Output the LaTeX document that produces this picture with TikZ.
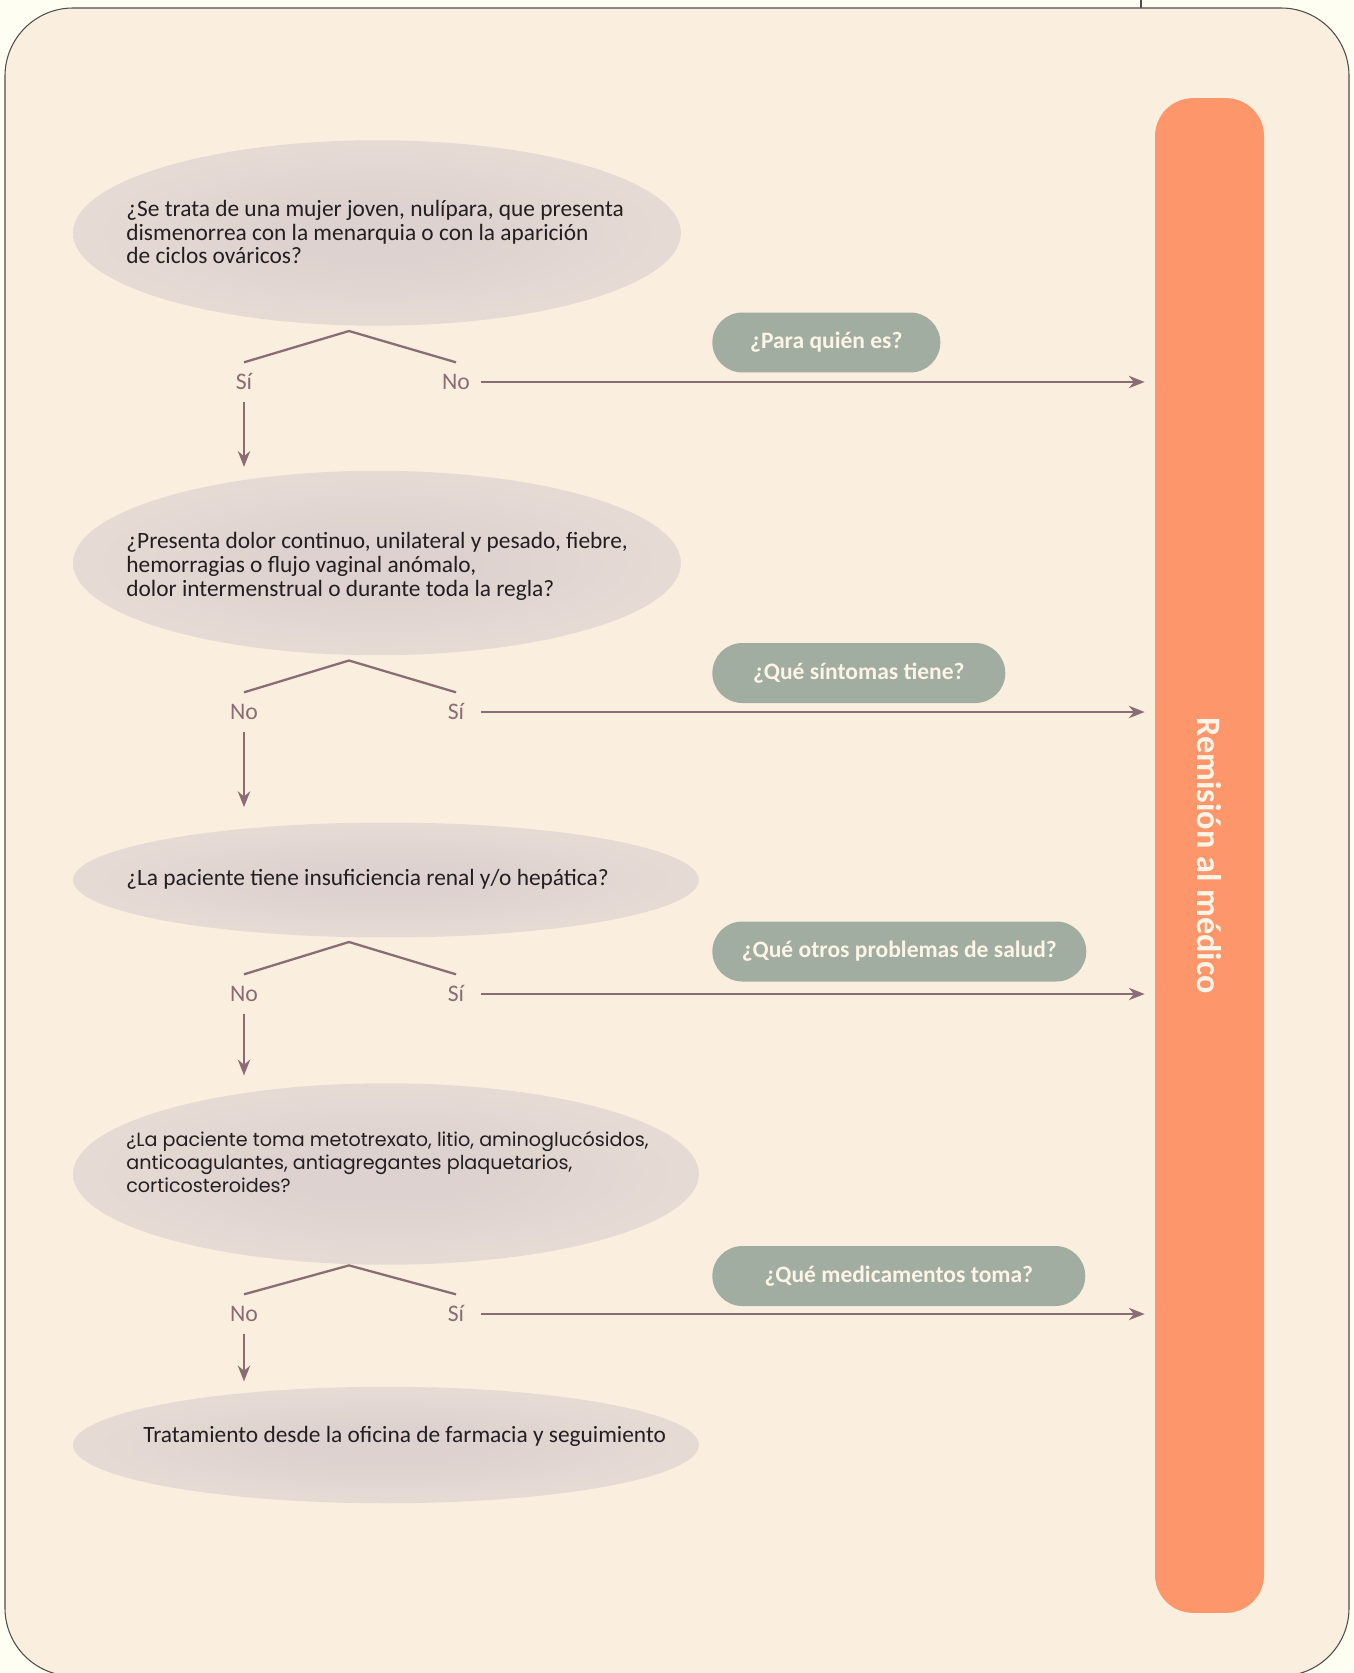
\documentclass[tikz,border=0pt]{standalone}
\usepackage{fontspec}
\setmainfont{Carlito}
\newfontfamily\futura{Poppins}
\usetikzlibrary{arrows.meta}
\usetikzlibrary{shapes.geometric}
\definecolor{pagebg}{HTML}{FFFEF3}
\definecolor{panelbg}{HTML}{FAEEDE}
\definecolor{panelline}{HTML}{4D4D4D}
\definecolor{remorange}{HTML}{FD976B}
\definecolor{pillgreen}{HTML}{A1ADA0}
\definecolor{pilltext}{HTML}{FCF4E6}
\definecolor{mauve}{HTML}{8A6C74}
\definecolor{qinner}{HTML}{DDD2CF}
\definecolor{qouter}{HTML}{F3E8DC}
\definecolor{qtextcol}{HTML}{231F20}
\pgfdeclareradialshading{qglow}{\pgfpoint{0bp}{0bp}}{color(0bp)=(qinner); color(8bp)=(qinner); color(50bp)=(qouter)}

\begin{document}
\begin{tikzpicture}[x=0.02cm,y=-0.02cm,
	qbox/.style={ellipse, shading=qglow, inner sep=0pt},
	qtext/.style={anchor=west, align=left, inner sep=0pt, text=qtextcol, font=\fontsize{13.3}{13.6}\selectfont},
	lbl/.style={text=mauve, font=\fontsize{13.5}{13.5}\selectfont, text height=8pt, text depth=0pt, inner ysep=7pt, inner xsep=0pt, minimum width=1cm},
	pill/.style={anchor=west, fill=pillgreen, rounded corners=0.6cm, minimum height=1.2cm, inner sep=0pt, text=pilltext, font=\bfseries\fontsize{13.4}{13.4}\selectfont},
	branch/.style={draw=mauve, line width=1.3pt},
	arr/.style={draw=mauve, line width=1.3pt, -{Stealth[length=9pt,width=7pt]}}]
	\useasboundingbox[fill=pagebg] (0,0) rectangle (1354,1673);
	\draw[panelline, line width=0.6pt] (1141,0) -- (1141,8);
	\draw[draw=panelline, fill=panelbg, line width=0.6pt, rounded corners=1.36cm] (5,8) rectangle (1349,1676);

	% remision
	\node[fill=remorange, rounded corners=0.76cm, minimum width=2.18cm, minimum height=30.3cm, inner sep=0pt] (rem) at (1209.5,855.5) {};
	\node[rotate=-90, text=pilltext, font=\bfseries\fontsize{19.5}{19.5}\selectfont] (remtxt) at (rem.center) {Remisión al médico};

	% preguntas
	\node[qbox, minimum width=12.16cm, minimum height=3.71cm] (q1) at (377,233) {};
	\node[qtext] (t1) at (126,232) {¿Se trata de una mujer joven, nulípara, que presenta\\dismenorrea con la menarquia o con la aparición\\de ciclos ováricos?};
	\node[qbox, minimum width=12.16cm, minimum height=3.69cm] (q2) at (377,563) {};
	\node[qtext] (t2) at (126,566) {¿Presenta dolor continuo, unilateral y pesado, fiebre,\\hemorragias o flujo vaginal anómalo,\\dolor intermenstrual o durante toda la regla?};
	\node[qbox, minimum width=12.52cm, minimum height=2.3cm] (q3) at (386,880) {};
	\node[qtext] (t3) at (126,879) {¿La paciente tiene insuficiencia renal y/o hepática?};
	\node[qbox, minimum width=12.52cm, minimum height=3.63cm] (q4) at (386,1174) {};
	\node[qtext, font=\futura\fontsize{10.9}{13.3}\selectfont] (t4) at (126,1162) {¿La paciente toma metotrexato, litio, aminoglucósidos,\\anticoagulantes, antiagregantes plaquetarios,\\corticosteroides?};
	\node[qbox, minimum width=12.52cm, minimum height=2.33cm] (q5) at (386,1445) {};
	\node[qtext] (t5) at (143,1436) {Tratamiento desde la oficina de farmacia y seguimiento};

	% fila 1
	\coordinate (a1) at (349,331);
	\node[lbl] (s1) at (244,382) {Sí};
	\node[lbl] (n1) at (456,382) {No};
	\draw[branch] (s1.north) -- (a1) -- (n1.north);
	\draw[arr, shorten >=0.07cm] (s1.south) -- (s1.south |- q2.north);
	\draw[arr, shorten >=0.2cm] (n1.east) -- (n1.east -| rem.west);
	\node[pill, minimum width=4.56cm] (p1) at (712,342.5) {¿Para quién es?};

	% fila 2
	\coordinate (a2) at (349,660.5);
	\node[lbl] (s2) at (244,712) {No};
	\node[lbl] (n2) at (456,712) {Sí};
	\draw[branch] (s2.north) -- (a2) -- (n2.north);
	\draw[arr, shorten >=0.3cm] (s2.south) -- (s2.south |- q3.north);
	\draw[arr, shorten >=0.2cm] (n2.east) -- (n2.east -| rem.west);
	\node[pill, minimum width=5.86cm] (p2) at (712,673) {¿Qué síntomas tiene?};

	% fila 3
	\coordinate (a3) at (349,942);
	\node[lbl] (s3) at (244,994) {No};
	\node[lbl] (n3) at (456,994) {Sí};
	\draw[branch] (s3.north) -- (a3) -- (n3.north);
	\draw[arr, shorten >=0.15cm] (s3.south) -- (s3.south |- q4.north);
	\draw[arr, shorten >=0.2cm] (n3.east) -- (n3.east -| rem.west);
	\node[pill, minimum width=7.48cm] (p3) at (712,951.5) {¿Qué otros problemas de salud?};

	% fila 4
	\coordinate (a4) at (349,1265.4);
	\node[lbl] (s4) at (244,1314) {No};
	\node[lbl] (n4) at (456,1314) {Sí};
	\draw[branch] (s4.north) -- (a4) -- (n4.north);
	\draw[arr, shorten >=0.1cm] (s4.south) -- (s4.south |- q5.north);
	\draw[arr, shorten >=0.2cm] (n4.east) -- (n4.east -| rem.west);
	\node[pill, minimum width=7.46cm] (p4) at (712,1276) {¿Qué medicamentos toma?};
\end{tikzpicture}
\end{document}
